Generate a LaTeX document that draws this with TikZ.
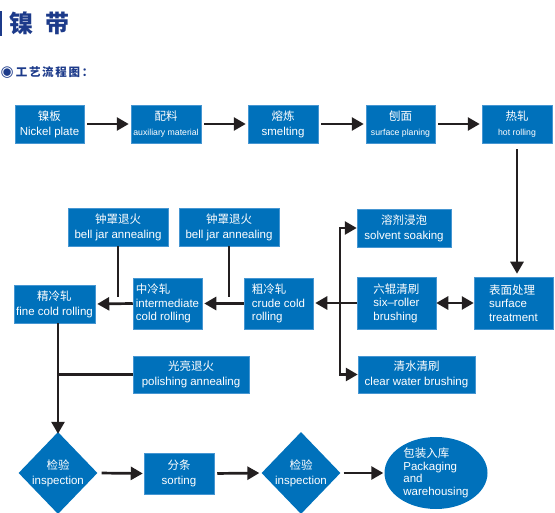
\documentclass[tikz,border=0pt]{standalone}
\usepackage{fontspec}
\setmainfont{Liberation Sans}
\newfontfamily\zh{Noto Sans CJK SC}
\newfontfamily\sym{DejaVu Sans}
\usepackage{xcolor}
\usetikzlibrary{arrows.meta,shapes.geometric}

\definecolor{boxblue}{RGB}{0,113,187}
\definecolor{boxline}{RGB}{70,150,210}
\definecolor{navy}{RGB}{28,58,138}
\definecolor{ink}{RGB}{35,31,32}
\newcommand{\sm}{\fontsize{8.7}{10}\selectfont}

\begin{document}
\begin{tikzpicture}[x=1pt,y=-1pt,
    box/.style={draw=boxline, line width=0.5pt, fill=boxblue, text=white,
        inner sep=0pt, align=center, font=\fontsize{11.5}{15}\selectfont},
    box3/.style={box, align=left, font=\fontsize{11.5}{13.5}\selectfont},
    dia/.style={diamond, fill=boxblue, text=white, inner sep=0pt,
        minimum width=77pt, minimum height=82pt, align=center,
        font=\fontsize{11.5}{15}\selectfont},
    oval/.style={ellipse, fill=boxblue, text=white, inner sep=0pt,
        minimum width=103pt, minimum height=72pt, align=left,
        font=\fontsize{11.5}{12.5}\selectfont},
    link/.style={draw=ink, line width=2.7pt},
    arr/.style={link, -{Triangle[length=12pt,width=13pt]},
        shorten <=3pt, shorten >=2pt}]
    \useasboundingbox (0,0) rectangle (555,513);

    % heading
    \fill[navy] (0,11) rectangle (2,36);
    \node[anchor=west, text=navy, inner sep=0pt,
        font=\zh\bfseries\fontsize{24}{24}\selectfont] (title) at (9,23) {镍\hspace{12pt}带};
    \node[anchor=west, text=navy, inner sep=0pt] (sub) at (0.5,73)
        {{\sym\fontsize{15}{15}\selectfont ◉}\hspace{2pt}{\zh\bfseries\fontsize{11.5}{12}\selectfont\addfontfeatures{LetterSpace=15}工艺流程图：}};

    % top row
    \node[box, minimum width=69pt, minimum height=38pt] (nickel) at (49.5,124) {{\zh 镍板}\\Nickel plate};
    \node[box, minimum width=70pt, minimum height=38pt] (aux) at (166,124) {{\zh 配料}\\{\sm auxiliary material}};
    \node[box, minimum width=70pt, minimum height=38pt] (smelt) at (283,124) {{\zh 熔炼}\\smelting};
    \node[box, minimum width=69pt, minimum height=38pt] (plane) at (400.5,124) {{\zh 刨面}\\{\sm surface planing}};
    \node[box, minimum width=70pt, minimum height=38pt] (hot) at (517,124) {{\zh 热轧}\\{\sm hot rolling}};

    % middle rows
    \node[box3, minimum width=79pt, minimum height=52pt] (surf) at (513.5,303) {{\zh 表面处理}\\surface\\treatment};
    \node[box3, minimum width=79pt, minimum height=52pt] (six) at (396.5,303) {{\zh 六辊清刷}\\six–roller\\brushing};
    \node[box, minimum width=94pt, minimum height=38pt] (solv) at (404,228) {{\zh 溶剂浸泡}\\solvent soaking};
    \node[box, minimum width=117pt, minimum height=37pt] (clear) at (416.5,374.5) {{\zh 清水清刷}\\clear water brushing};
    \node[box3, minimum width=69pt, minimum height=51pt] (crude) at (278.5,303.5) {{\zh 粗冷轧}\\crude cold\\rolling};
    \node[box3, minimum width=69pt, minimum height=51pt] (inter) at (167.5,303.5) {{\zh 中冷轧}\\intermediate\\cold rolling};
    \node[box, minimum width=81pt, minimum height=38pt] (fine) at (54.5,304) {{\zh 精冷轧}\\fine cold rolling};
    \node[box, minimum width=100pt, minimum height=38pt] (bellA) at (118,227) {{\zh 钟罩退火}\\bell jar annealing};
    \node[box, minimum width=100pt, minimum height=38pt] (bellB) at (229,227) {{\zh 钟罩退火}\\bell jar annealing};
    \node[box, minimum width=116pt, minimum height=37pt] (polish) at (191,374.5) {{\zh 光亮退火}\\polishing annealing};

    % bottom row
    \node[dia] (inspA) at (58,473) {{\zh 检验}\\inspection};
    \node[box, minimum width=70pt, minimum height=41pt] (sort) at (179,473.5) {{\zh 分条}\\sorting};
    \node[dia] (inspB) at (301,473) {{\zh 检验}\\inspection};
    \node[oval] (pack) at (436,473) {{\zh 包装入库}\\Packaging\\and\\warehousing};

    % connectors
    \draw[arr] (nickel.east) -- (aux.west);
    \draw[arr] (aux.east) -- (smelt.west);
    \draw[arr] (smelt.east) -- (plane.west);
    \draw[arr] (plane.east) -- (hot.west);
    \draw[arr, shorten <=6pt, shorten >=3pt] (hot.south) -- (hot.south |- surf.north);
    \draw[arr, {Triangle[length=12pt,width=13pt]}-{Triangle[length=12pt,width=13pt]},
        shorten <=0pt, shorten >=0pt] (six.east) -- (surf.west);
    \draw[arr, shorten <=0pt] (six.west) -- (six.west -| crude.east);
    \coordinate (jn) at (340,303);
    \draw[arr, shorten <=0pt, shorten >=0pt] (jn) |- (solv.west);
    \draw[arr, shorten <=0pt, shorten >=0pt] (jn) |- (clear.west);
    \draw[arr, shorten <=0pt] (crude.west) -- (inter.east);
    \draw[arr, shorten <=0pt] (inter.west) -- (fine.east);
    \coordinate (bBend) at (229,297);
    \draw[link] (bellB.south) -- (bBend);
    \draw[link] (bellA.south) -- (bellA.south |- bBend);
    \draw[arr, shorten <=0pt, shorten >=-2pt] (fine.south -| inspA) -- (inspA.north);
    \draw[link] (polish.west) -- (polish.west -| inspA);
    \draw[arr, shorten <=4pt, shorten >=1pt] (inspA.east) -- (sort.west);
    \draw[arr] (sort.east) -- (inspB.west);
    \draw[arr, shorten >=1pt] (inspB.east) -- (pack.west);
\end{tikzpicture}
\end{document}
